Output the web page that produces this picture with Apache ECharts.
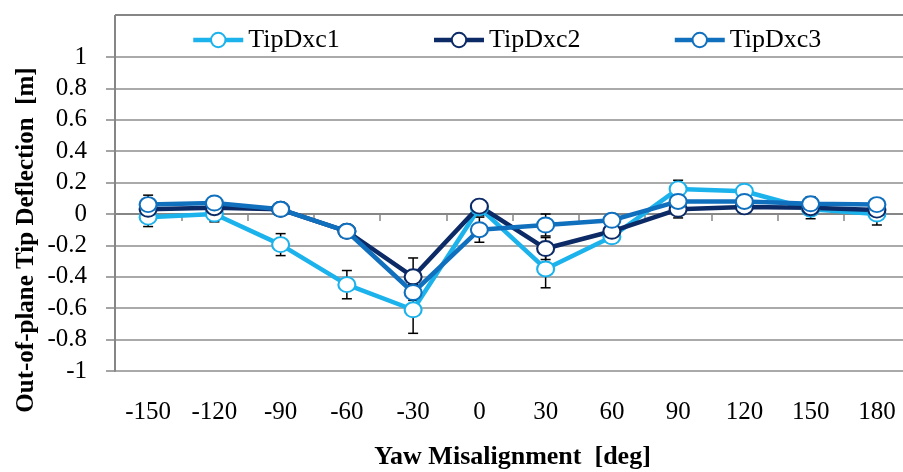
<!DOCTYPE html>
<html>
<head>
<meta charset="utf-8">
<script src="https://cdn.jsdelivr.net/npm/echarts@6/dist/echarts.min.js"></script>
<style>html,body{margin:0;padding:0;background:#fff}#c{width:903px;height:472px}</style>
</head>
<body>
<div id="c"></div>
<script>
const categories = ['-150','-120','-90','-60','-30','0','30','60','90','120','150','180'];
const yTicks = [-1,-0.8,-0.6,-0.4,-0.2,0,0.2,0.4,0.6,0.8,1];
const tipDxc1 = [-0.02, 0.00, -0.195, -0.45, -0.61, 0.04, -0.35, -0.145, 0.16, 0.145, 0.03, 0.00];
const tipDxc2 = [0.03, 0.04, 0.03, -0.11, -0.40, 0.05, -0.22, -0.11, 0.03, 0.045, 0.04, 0.025];
const tipDxc3 = [0.06, 0.07, 0.03, -0.11, -0.50, -0.10, -0.07, -0.04, 0.08, 0.08, 0.065, 0.06];
const err1 = [0.06, 0.05, 0.07, 0.09, 0.15, 0.05, 0.12, 0.04, 0.055, 0.03, 0.03, 0.07];
const err2 = [0.04, 0.03, 0.03, 0.03, 0.12, 0.03, 0.07, 0.03, 0.055, 0.03, 0.07, 0.03];
const err3 = [0.06, 0.03, 0.03, 0.03, 0.05, 0.08, 0.07, 0.03, 0.03, 0.03, 0.03, 0.03];
const seriesNames = ['TipDxc1','TipDxc2','TipDxc3'];
const colors = ['#1cb2ec','#0b2a66','#1170be'];

const FONT = '"Liberation Serif","Times New Roman",serif';
const chart = echarts.init(document.getElementById('c'), null, {renderer:'canvas'});

function errSeries(name, vals, errs) {
  return {
    type: 'custom', name: name, z: 1, silent: true,
    data: vals.map((v, i) => [i, v - errs[i], v + errs[i]]),
    renderItem: function (params, api) {
      const lo = api.coord([api.value(0), api.value(1)]);
      const hi = api.coord([api.value(0), api.value(2)]);
      const w = 5;
      const st = {stroke: '#000', lineWidth: 1.5};
      return {type: 'group', children: [
        {type: 'line', shape: {x1: lo[0], y1: lo[1], x2: hi[0], y2: hi[1]}, style: st},
        {type: 'line', shape: {x1: lo[0]-w, y1: lo[1], x2: lo[0]+w, y2: lo[1]}, style: st},
        {type: 'line', shape: {x1: hi[0]-w, y1: hi[1], x2: hi[0]+w, y2: hi[1]}, style: st}
      ]};
    }
  };
}
function lineSeries(name, vals, color) {
  return {
    type: 'line', name: name, data: vals, z: 3,
    symbol: 'circle', symbolSize: [17, 15], showAllSymbol: true,
    lineStyle: {color: color, width: 4.5},
    itemStyle: {color: '#fff', borderColor: color, borderWidth: 2},
    emphasis: {disabled: true}
  };
}

chart.setOption({
  animation: false,
  backgroundColor: '#fff',
  grid: {left: 115, top: 57, width: 795, height: 314, containLabel: false, outerBoundsMode: 'none'},
  legend: {
    data: seriesNames, left: 186, top: 22,
    itemWidth: 50, itemHeight: 18, itemGap: 92,
    lineStyle: {width: 4.5},
    textStyle: {fontFamily: FONT, fontSize: 26, color: '#000'}
  },
  xAxis: {
    type: 'category', data: categories, boundaryGap: true,
    axisLine: {lineStyle: {color: '#868686', width: 2}},
    axisTick: {show: true, length: 7, inside: false, lineStyle: {color: '#868686', width: 1.5}},
    axisLabel: {fontFamily: FONT, fontSize: 25, color: '#000', margin: 29, interval: 0},
    splitLine: {show: false},
    name: 'Yaw Misalignment  [deg]', nameLocation: 'middle', nameGap: 73,
    nameTextStyle: {fontFamily: FONT, fontSize: 26, fontWeight: 'bold', color: '#000'}
  },
  yAxis: {
    type: 'value', min: -1, max: 1, interval: 0.2,
    axisLine: {show: true, lineStyle: {color: '#868686', width: 2}},
    axisTick: {show: true, length: 9, lineStyle: {color: '#868686', width: 1.5}},
    axisLabel: {fontFamily: FONT, fontSize: 25, color: '#000', margin: 28,
      formatter: v => String(Math.round(v * 10) / 10)},
    splitLine: {show: true, lineStyle: {color: '#8e8e8e', width: 1.5}}
  },
  graphic: [
    {type: 'line', shape: {x1: 115, y1: 15, x2: 903, y2: 15}, style: {stroke: '#868686', lineWidth: 2}, silent: true},
    {type: 'line', shape: {x1: 115, y1: 15, x2: 115, y2: 57}, style: {stroke: '#868686', lineWidth: 2}, silent: true},
    {type: 'text', x: 27, y: 240, rotation: Math.PI / 2, silent: true,
      style: {text: 'Out-of-plane Tip Deflection  [m]', fontFamily: FONT, fontSize: 25, fontWeight: 'bold',
        fill: '#000', align: 'center', verticalAlign: 'middle'}}
  ],
  series: [
    errSeries('e1', tipDxc1, err1),
    errSeries('e2', tipDxc2, err2),
    errSeries('e3', tipDxc3, err3),
    lineSeries(seriesNames[0], tipDxc1, colors[0]),
    lineSeries(seriesNames[1], tipDxc2, colors[1]),
    lineSeries(seriesNames[2], tipDxc3, colors[2])
  ]
});
</script>
</body>
</html>
